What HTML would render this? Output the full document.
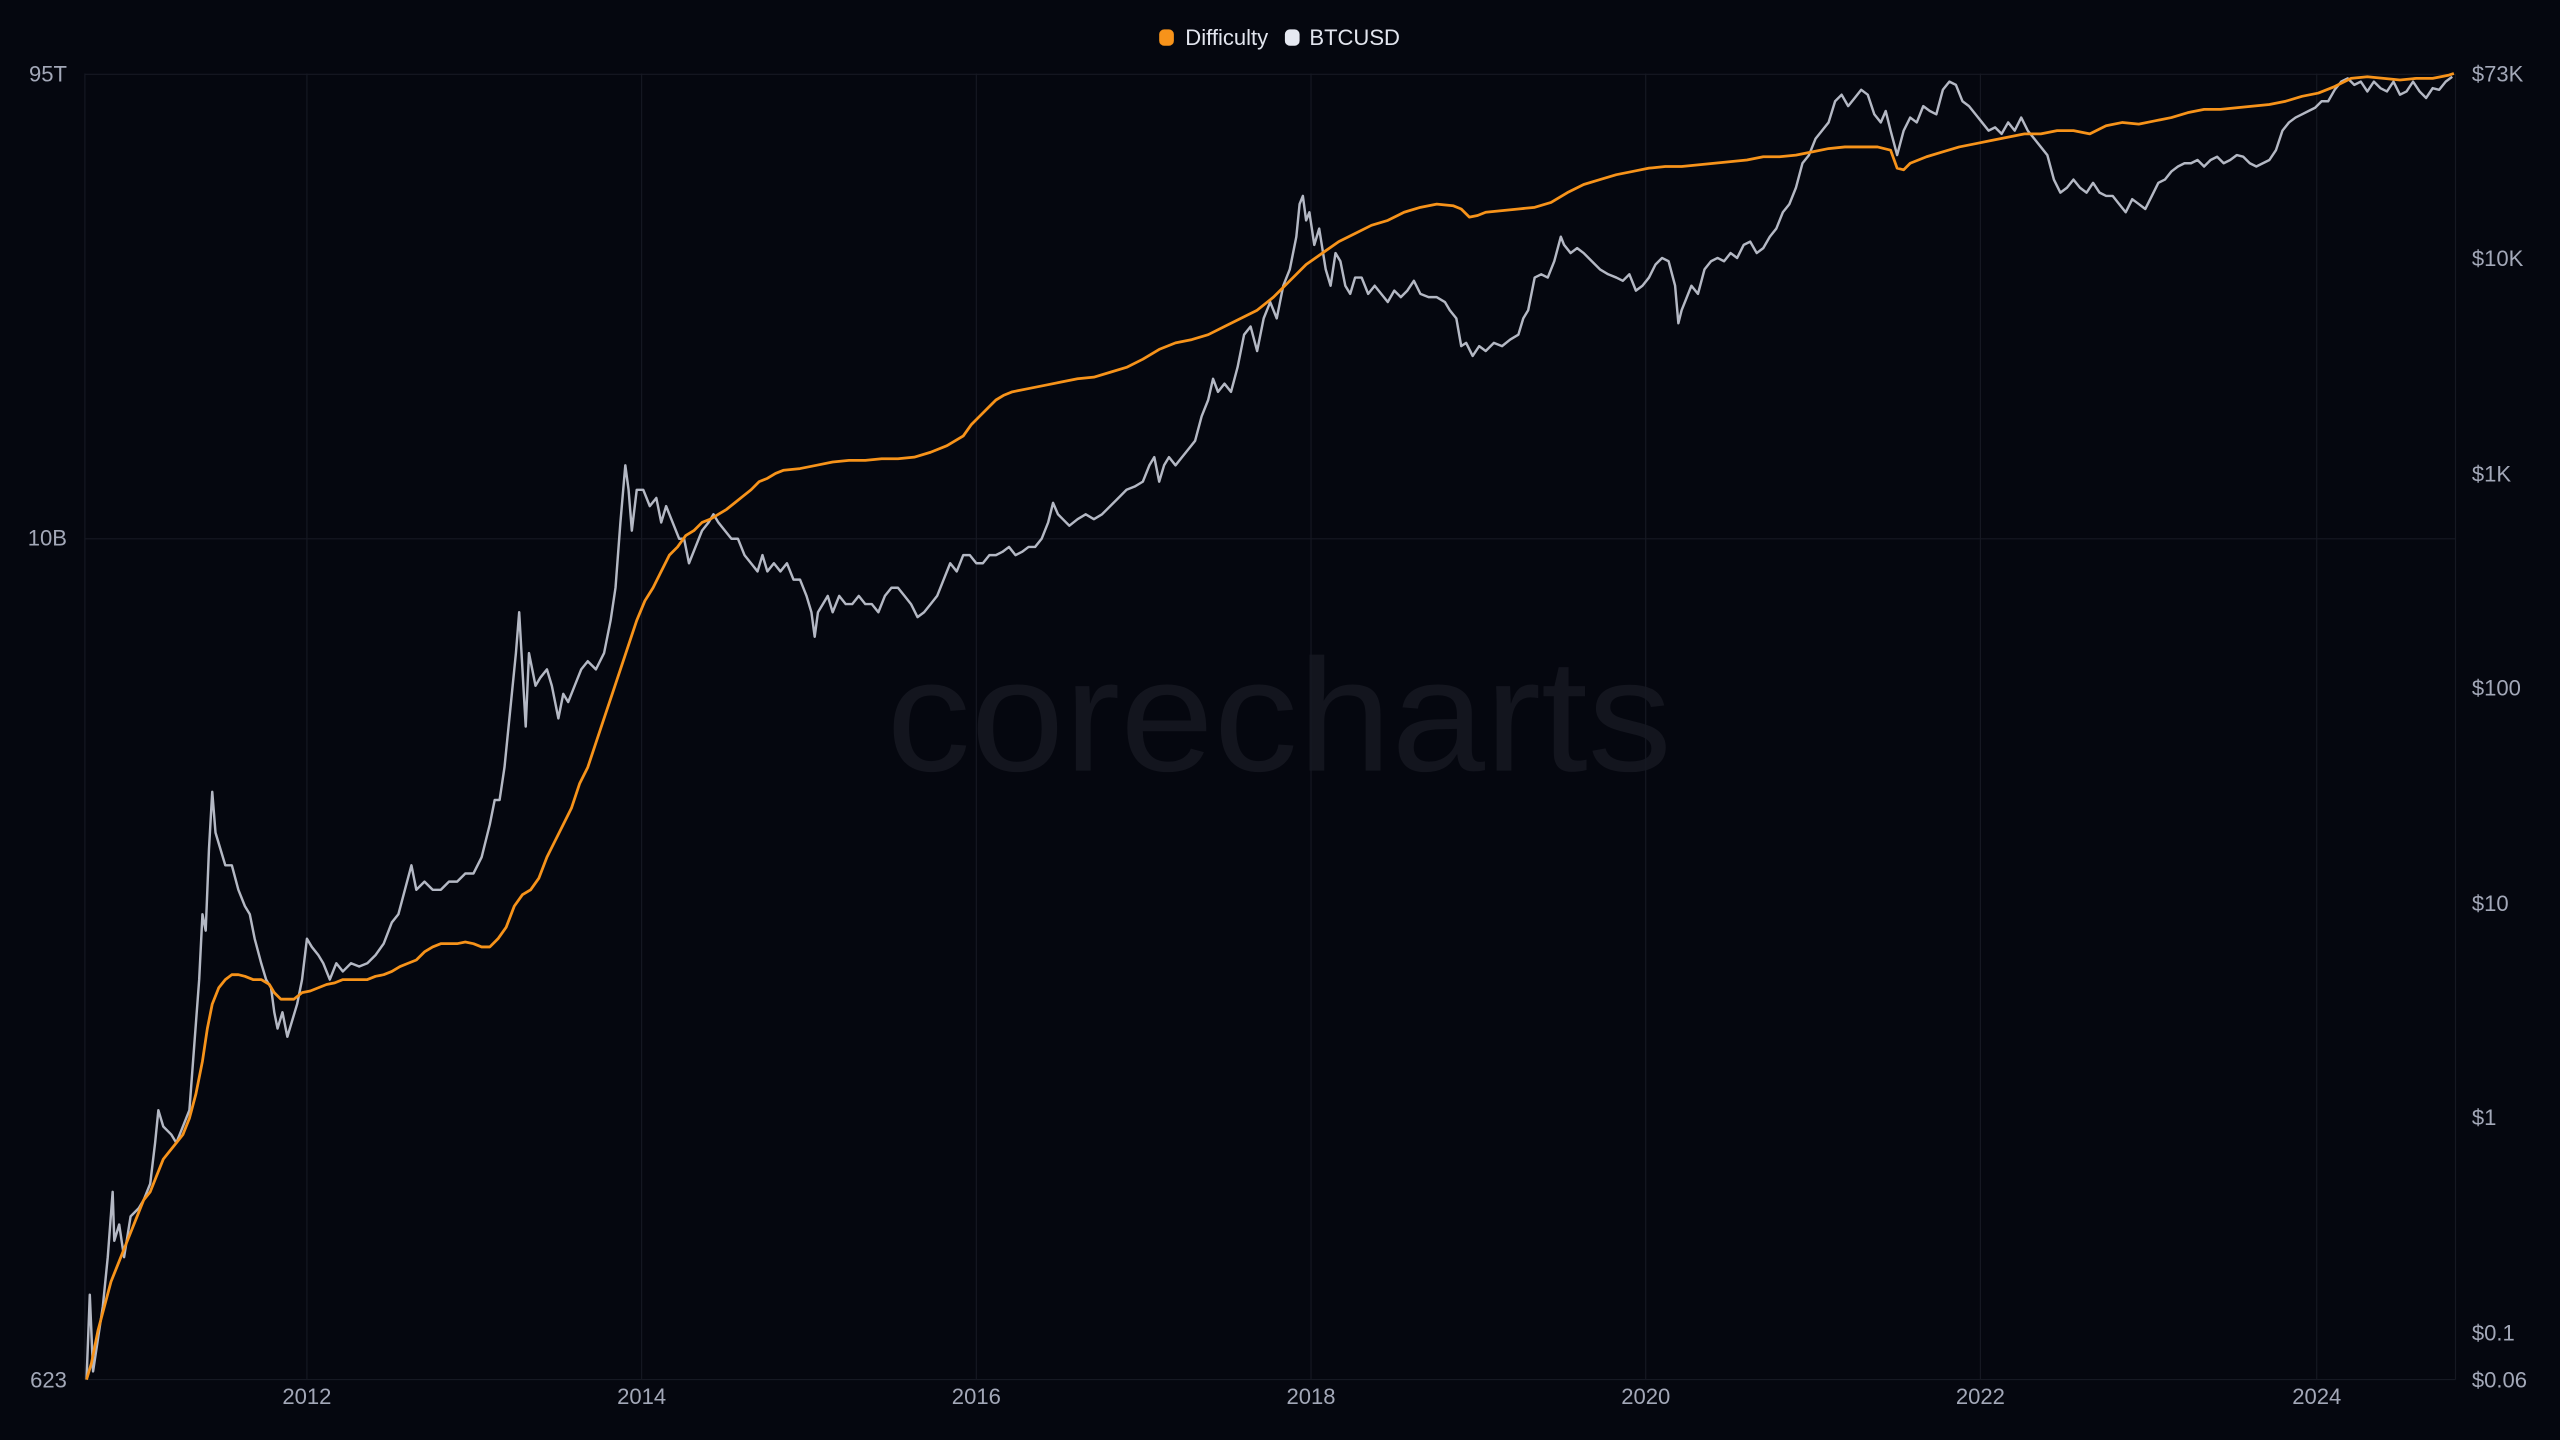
<!DOCTYPE html>
<html><head><meta charset="utf-8"><style>
html,body{margin:0;padding:0;background:#05070f;width:2560px;height:1440px;overflow:hidden}
svg{display:block}
text{font-family:"Liberation Sans",sans-serif;fill:#a3a8b8}
</style></head><body>
<svg width="2560" height="1440" viewBox="0 0 1568 882" xmlns="http://www.w3.org/2000/svg">
<rect width="1568" height="882" fill="#05070f"/>
<text x="543" y="472" font-size="98" style="fill:#13151e" textLength="481" lengthAdjust="spacingAndGlyphs">core<tspan>charts</tspan></text>
<g stroke="#161923" stroke-width="0.7">
<line x1="52" y1="45.5" x2="1504" y2="45.5"/>
<line x1="52" y1="330" x2="1504" y2="330"/>
<line x1="52" y1="845" x2="1504" y2="845"/>
<line x1="52" y1="45" x2="52" y2="845"/>
<line x1="1504" y1="45" x2="1504" y2="845"/>
<line x1="188" y1="45" x2="188" y2="845"/>
<line x1="393" y1="45" x2="393" y2="845"/>
<line x1="598" y1="45" x2="598" y2="845"/>
<line x1="803" y1="45" x2="803" y2="845"/>
<line x1="1008" y1="45" x2="1008" y2="845"/>
<line x1="1213" y1="45" x2="1213" y2="845"/>
<line x1="1419" y1="45" x2="1419" y2="845"/>
</g>
<g font-size="13.5">
<text x="41" y="50" text-anchor="end">95T</text>
<text x="41" y="334" text-anchor="end">10B</text>
<text x="41" y="850" text-anchor="end">623</text>
<text x="1514" y="50">$73K</text>
<text x="1514" y="163">$10K</text>
<text x="1514" y="295">$1K</text>
<text x="1514" y="426">$100</text>
<text x="1514" y="558">$10</text>
<text x="1514" y="689">$1</text>
<text x="1514" y="821">$0.1</text>
<text x="1514" y="850">$0.06</text>
<g text-anchor="middle">
<text x="188" y="860">2012</text><text x="393" y="860">2014</text><text x="598" y="860">2016</text>
<text x="803" y="860">2018</text><text x="1008" y="860">2020</text><text x="1213" y="860">2022</text><text x="1419" y="860">2024</text>
</g>
<rect x="710" y="18" width="9" height="10" rx="3" fill="#f7931a"/>
<text x="726" y="27.5" style="fill:#e2e5ee">Difficulty</text>
<rect x="787" y="18" width="9" height="10" rx="3" fill="#e6e9f2"/>
<text x="802" y="27.5" style="fill:#e2e5ee">BTCUSD</text>
</g>
<polyline fill="none" stroke="#b4b8c4" stroke-width="1.5" stroke-linejoin="round" points="53,845 55,793 57,840 60,820 63,800 66,770 69,730 70,760 73,750 76,770 80,745 85,740 88,735 92,725 95,700 97,680 100,690 105,695 108,700 112,690 116,680 119,640 122,600 124,560 126,570 128,520 130,485 132,510 135,520 138,530 142,530 146,545 150,555 153,560 156,575 160,590 163,600 166,605 168,620 170,630 173,620 176,635 179,625 182,615 185,600 188,575 191,580 195,585 198,590 202,600 206,590 210,595 215,590 220,592 225,590 230,585 235,578 240,565 244,560 248,545 252,530 255,545 260,540 265,545 270,545 275,540 280,540 285,535 290,535 295,525 300,505 303,490 306,490 309,470 312,440 314,420 316,400 318,375 320,410 322,445 324,400 326,410 328,420 331,415 335,410 338,420 342,440 345,425 348,430 352,420 356,410 360,405 365,410 370,400 374,380 377,360 380,320 383,285 385,300 387,325 390,300 394,300 398,310 402,305 405,320 408,310 412,320 416,330 419,330 422,345 426,335 430,325 434,320 437,315 440,320 444,325 448,330 452,330 456,340 460,345 464,350 467,340 470,350 474,345 478,350 482,345 486,355 490,355 494,365 497,375 499,390 501,375 504,370 507,365 510,375 514,365 518,370 522,370 526,365 530,370 534,370 538,375 542,365 546,360 550,360 554,365 558,370 562,378 566,375 570,370 574,365 578,355 582,345 586,350 590,340 594,340 598,345 602,345 606,340 610,340 614,338 618,335 622,340 626,338 630,335 634,335 638,330 642,320 645,308 648,315 651,318 655,322 660,318 665,315 670,318 675,315 680,310 685,305 690,300 695,298 700,295 704,285 707,280 710,295 713,285 716,280 720,285 724,280 728,275 732,270 736,255 740,245 743,232 746,240 750,235 754,240 758,225 762,205 766,200 770,215 774,195 778,185 782,195 786,175 790,165 794,145 796,125 798,120 800,135 802,130 805,150 808,140 812,165 815,175 818,155 821,160 824,175 827,180 830,170 834,170 838,180 842,175 846,180 850,185 854,178 858,182 862,178 866,172 870,180 875,182 880,182 885,185 888,190 892,195 895,212 898,210 902,218 906,212 910,215 915,210 920,212 925,208 930,205 933,195 936,190 940,170 944,168 948,170 952,160 956,145 958,150 962,155 966,152 970,155 975,160 980,165 985,168 990,170 994,172 998,168 1002,178 1006,175 1010,170 1014,162 1018,158 1022,160 1026,175 1028,198 1030,190 1032,185 1036,175 1040,180 1044,165 1048,160 1052,158 1056,160 1060,155 1064,158 1068,150 1072,148 1076,155 1080,152 1084,145 1088,140 1092,130 1096,125 1100,115 1104,100 1108,95 1112,85 1116,80 1120,75 1124,62 1128,58 1132,65 1136,60 1140,55 1144,58 1148,70 1152,75 1155,68 1158,80 1162,95 1166,80 1170,72 1174,75 1178,65 1182,68 1186,70 1190,55 1194,50 1198,52 1202,62 1206,65 1210,70 1214,75 1218,80 1222,78 1226,82 1230,75 1234,80 1238,72 1242,80 1246,85 1250,90 1254,95 1258,110 1262,118 1266,115 1270,110 1274,115 1278,118 1282,112 1286,118 1290,120 1294,120 1298,125 1302,130 1306,122 1310,125 1314,128 1318,120 1322,112 1326,110 1330,105 1334,102 1338,100 1342,100 1346,98 1350,102 1354,98 1358,96 1362,100 1366,98 1370,95 1374,96 1378,100 1382,102 1386,100 1390,98 1394,92 1398,80 1402,75 1406,72 1410,70 1414,68 1418,66 1422,62 1426,62 1430,55 1434,50 1438,48 1442,52 1446,50 1450,56 1454,50 1458,54 1462,56 1466,50 1470,58 1474,56 1478,50 1482,56 1486,60 1490,54 1494,55 1498,50 1502,47"/>
<polyline fill="none" stroke="#f7931a" stroke-width="1.7" stroke-linejoin="round" points="53,845 56,835 60,815 64,800 68,785 72,775 76,765 80,755 84,745 88,735 92,730 96,720 100,710 104,705 108,700 112,695 116,685 120,670 124,650 127,630 130,615 134,605 138,600 142,597 146,597 150,598 155,600 160,600 165,603 168,608 172,612 176,612 180,612 185,608 190,607 195,605 200,603 205,602 210,600 215,600 220,600 225,600 230,598 235,597 240,595 245,592 250,590 255,588 260,583 265,580 270,578 275,578 280,578 285,577 290,578 295,580 300,580 305,575 310,568 315,555 320,548 325,545 330,538 335,525 340,515 345,505 350,495 355,480 360,470 365,455 370,440 375,425 380,410 385,395 390,380 395,368 400,360 405,350 410,340 415,335 420,328 425,325 430,320 435,318 440,315 445,312 450,308 455,304 460,300 465,295 470,293 475,290 480,288 490,287 500,285 510,283 520,282 530,282 540,281 550,281 560,280 570,277 580,273 590,267 595,260 600,255 605,250 610,245 615,242 620,240 630,238 640,236 650,234 660,232 670,231 680,228 690,225 700,220 710,214 720,210 730,208 740,205 750,200 760,195 770,190 780,182 790,172 800,162 810,155 820,148 830,143 840,138 850,135 860,130 870,127 880,125 890,126 895,128 900,133 905,132 910,130 920,129 930,128 940,127 950,124 960,118 970,113 980,110 990,107 1000,105 1010,103 1020,102 1030,102 1040,101 1050,100 1060,99 1070,98 1080,96 1090,96 1100,95 1110,93 1120,91 1130,90 1140,90 1150,90 1158,92 1162,103 1166,104 1170,100 1180,96 1190,93 1200,90 1210,88 1220,86 1230,84 1240,82 1250,82 1260,80 1270,80 1280,82 1290,77 1300,75 1310,76 1320,74 1330,72 1340,69 1350,67 1360,67 1370,66 1380,65 1390,64 1400,62 1410,59 1420,57 1430,53 1440,48 1450,47 1460,48 1470,49 1480,48 1490,48 1500,46 1503,45"/>
</svg>
</body></html>
